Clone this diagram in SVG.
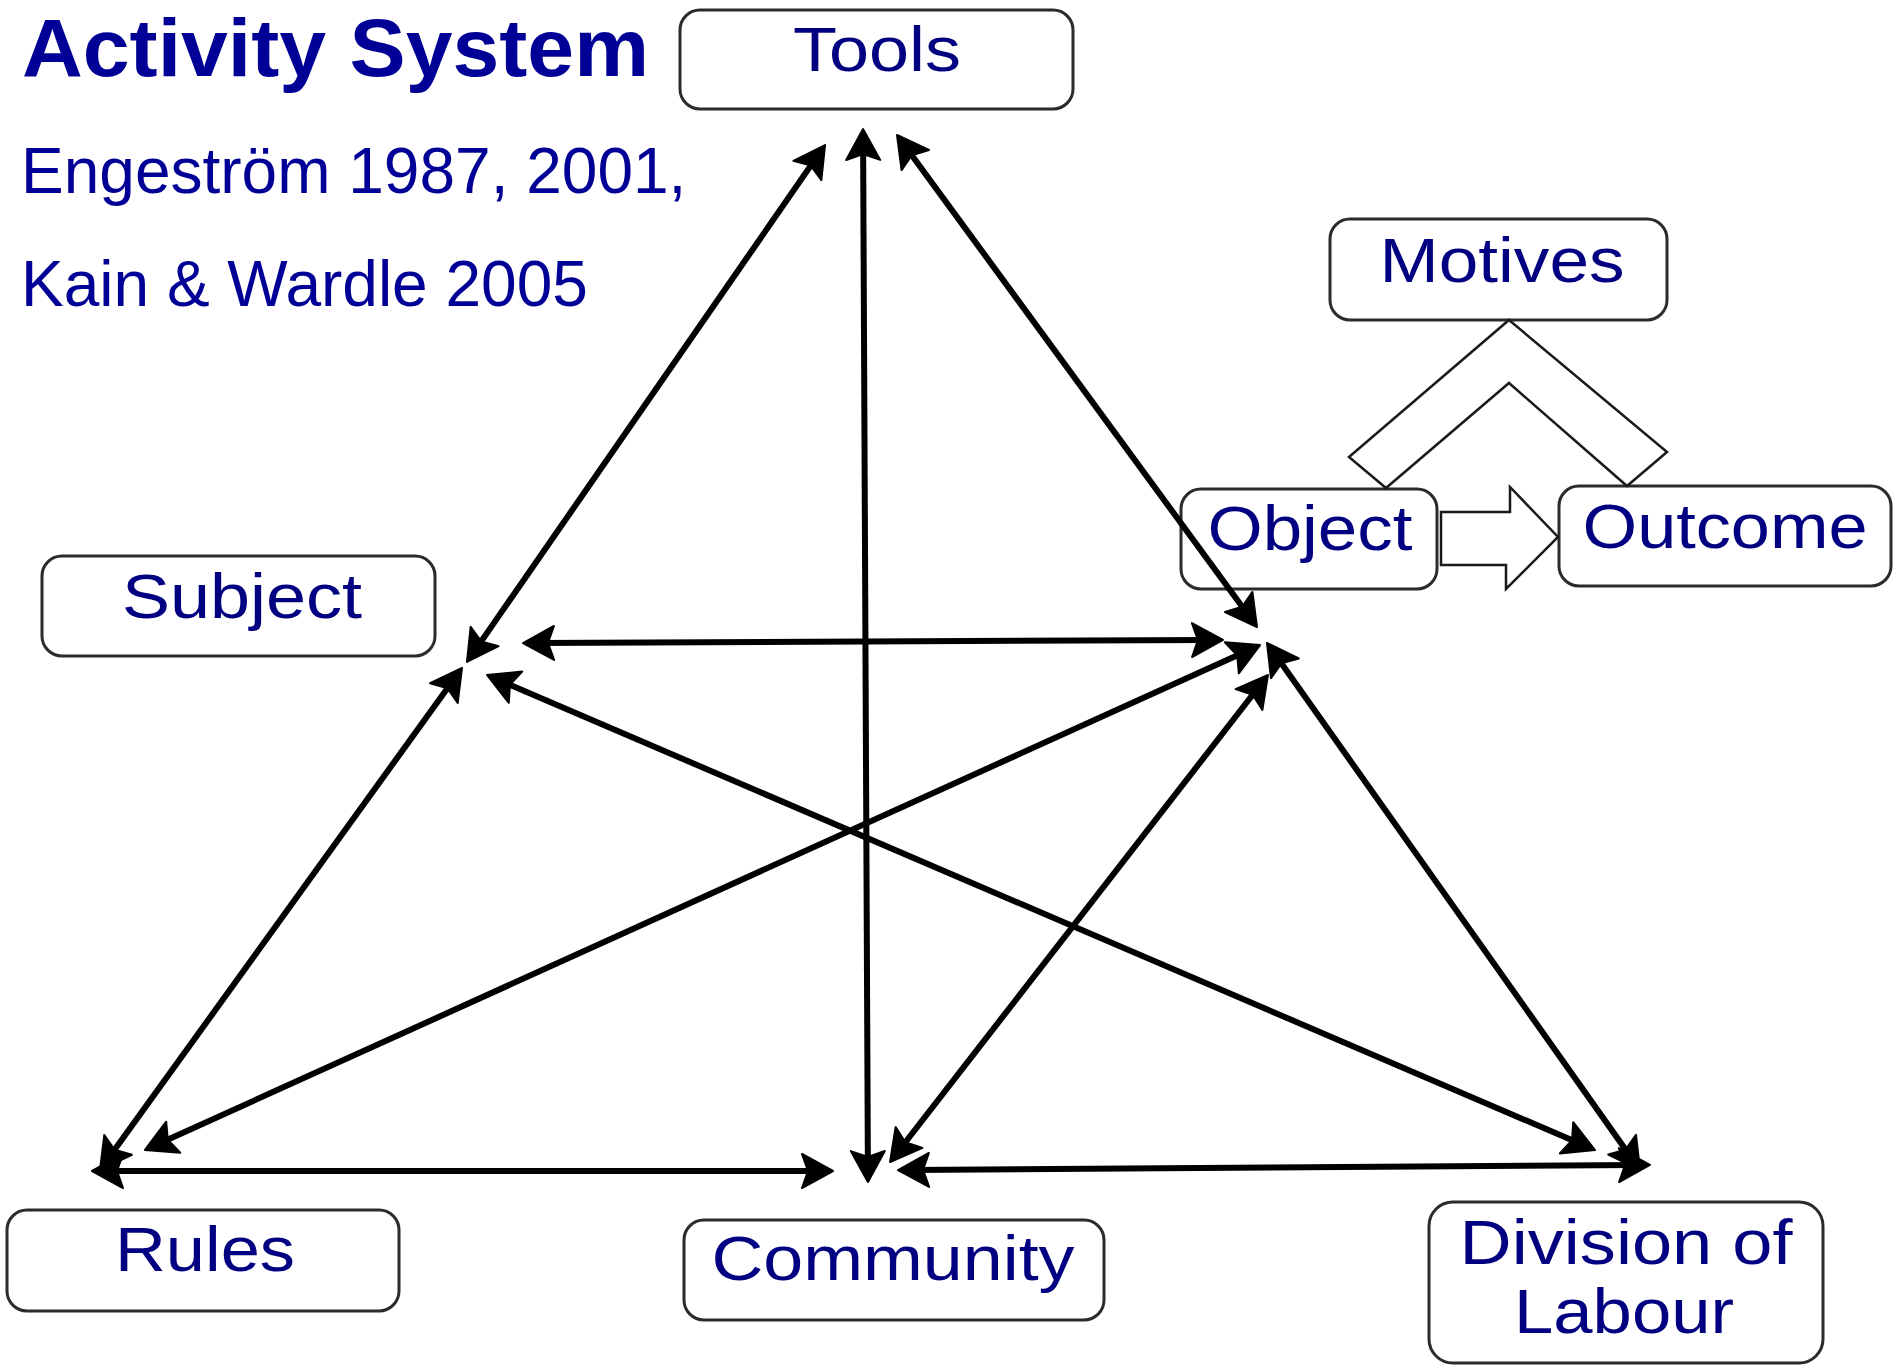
<svg xmlns="http://www.w3.org/2000/svg" width="1895" height="1366" viewBox="0 0 1895 1366">
  <style>
    .heading { font-family: "Liberation Sans", Arial, sans-serif; fill: #000096; }
    .box { fill: #ffffff; stroke: #2b2b2b; stroke-width: 3; }
    .label { font-family: "Liberation Sans", Arial, sans-serif; font-size: 63px; fill: #000080; text-anchor: middle; }
    .link { fill: none; stroke: #000000; stroke-width: 6; marker-start: url(#head); marker-end: url(#head); }
    .shape { fill: #ffffff; stroke: #1a1a1a; stroke-width: 2.5; stroke-linejoin: miter; }
  </style>
  <defs>
    <!-- barbed arrowhead; tip sits 12px beyond the line end -->
    <marker id="head" viewBox="-24 -20 40 40" markerWidth="40" markerHeight="40" refX="0" refY="0" markerUnits="userSpaceOnUse" orient="auto-start-reverse">
      <path d="M12,0 L-19,-17 L-13,0 L-19,17 Z" fill="#000000" stroke="#000000" stroke-width="2" stroke-linejoin="round"/>
    </marker>
  </defs>

  <rect x="0" y="0" width="1895" height="1366" fill="#ffffff"/>

  <!-- heading -->
  <g id="title">
    <text class="heading" x="22" y="76" font-size="82" font-weight="bold" textLength="627" lengthAdjust="spacingAndGlyphs">Activity System</text>
    <text class="heading" x="21" y="193" font-size="64">Engeström 1987, 2001,</text>
    <text class="heading" x="21" y="306" font-size="64">Kain &amp; Wardle 2005</text>
  </g>

  <!-- nodes -->
  <g id="tools">
    <rect class="box" x="680" y="10" width="393" height="99" rx="20"/>
    <text class="label" x="877" y="71" textLength="168" lengthAdjust="spacingAndGlyphs">Tools</text>
  </g>
  <g id="subject">
    <rect class="box" x="42" y="556" width="393" height="100" rx="20"/>
    <text class="label" x="242" y="618" textLength="240" lengthAdjust="spacingAndGlyphs">Subject</text>
  </g>
  <g id="rules">
    <rect class="box" x="7" y="1210" width="392" height="101" rx="20"/>
    <text class="label" x="205" y="1271" textLength="180" lengthAdjust="spacingAndGlyphs">Rules</text>
  </g>
  <g id="community">
    <rect class="box" x="684" y="1220" width="420" height="100" rx="20"/>
    <text class="label" x="893" y="1280" textLength="363" lengthAdjust="spacingAndGlyphs">Community</text>
  </g>
  <g id="division-of-labour">
    <rect class="box" x="1429" y="1202" width="394" height="161" rx="24"/>
    <text class="label" x="1626" y="1264" textLength="333" lengthAdjust="spacingAndGlyphs">Division of</text>
    <text class="label" x="1624" y="1333" textLength="220" lengthAdjust="spacingAndGlyphs">Labour</text>
  </g>
  <g id="motives">
    <rect class="box" x="1330" y="219" width="337" height="101" rx="20"/>
    <text class="label" x="1502" y="282" textLength="245" lengthAdjust="spacingAndGlyphs">Motives</text>
  </g>
  <g id="object">
    <rect class="box" x="1181" y="489" width="256" height="100" rx="20"/>
    <text class="label" x="1310" y="550" textLength="205" lengthAdjust="spacingAndGlyphs">Object</text>
  </g>
  <g id="outcome">
    <rect class="box" x="1559" y="486" width="332" height="100" rx="20"/>
    <text class="label" x="1725" y="548" textLength="285" lengthAdjust="spacingAndGlyphs">Outcome</text>
  </g>

  <!-- motive chevron and object-to-outcome block arrow -->
  <g id="object-flow">
    <polygon class="shape" points="1509,320 1667,452 1627,486 1509,383 1386,488 1349,457"/>
    <polygon class="shape" points="1441,512 1510,512 1510,487 1558,537 1506,589 1506,565 1441,565"/>
  </g>

  <!-- connectors -->
  <g id="connectors">
    <line class="link" x1="818.2" y1="154.9" x2="473.8" y2="652.1"/>
    <line class="link" x1="863.1" y1="141" x2="867.9" y2="1170"/>
    <line class="link" x1="904.1" y1="144.7" x2="1249.9" y2="617.3"/>
    <line class="link" x1="535" y1="643" x2="1211" y2="640"/>
    <line class="link" x1="455" y1="677.7" x2="107" y2="1160.3"/>
    <line class="link" x1="498" y1="679.7" x2="1584" y2="1145.3"/>
    <line class="link" x1="1249.1" y1="650" x2="155.9" y2="1145"/>
    <line class="link" x1="1260.6" y1="684.5" x2="897.4" y2="1152.5"/>
    <line class="link" x1="1273.9" y1="652.8" x2="1633.1" y2="1160.2"/>
    <line class="link" x1="104" y1="1171" x2="821" y2="1171"/>
    <line class="link" x1="910" y1="1170" x2="1638" y2="1165"/>
  </g>
</svg>
